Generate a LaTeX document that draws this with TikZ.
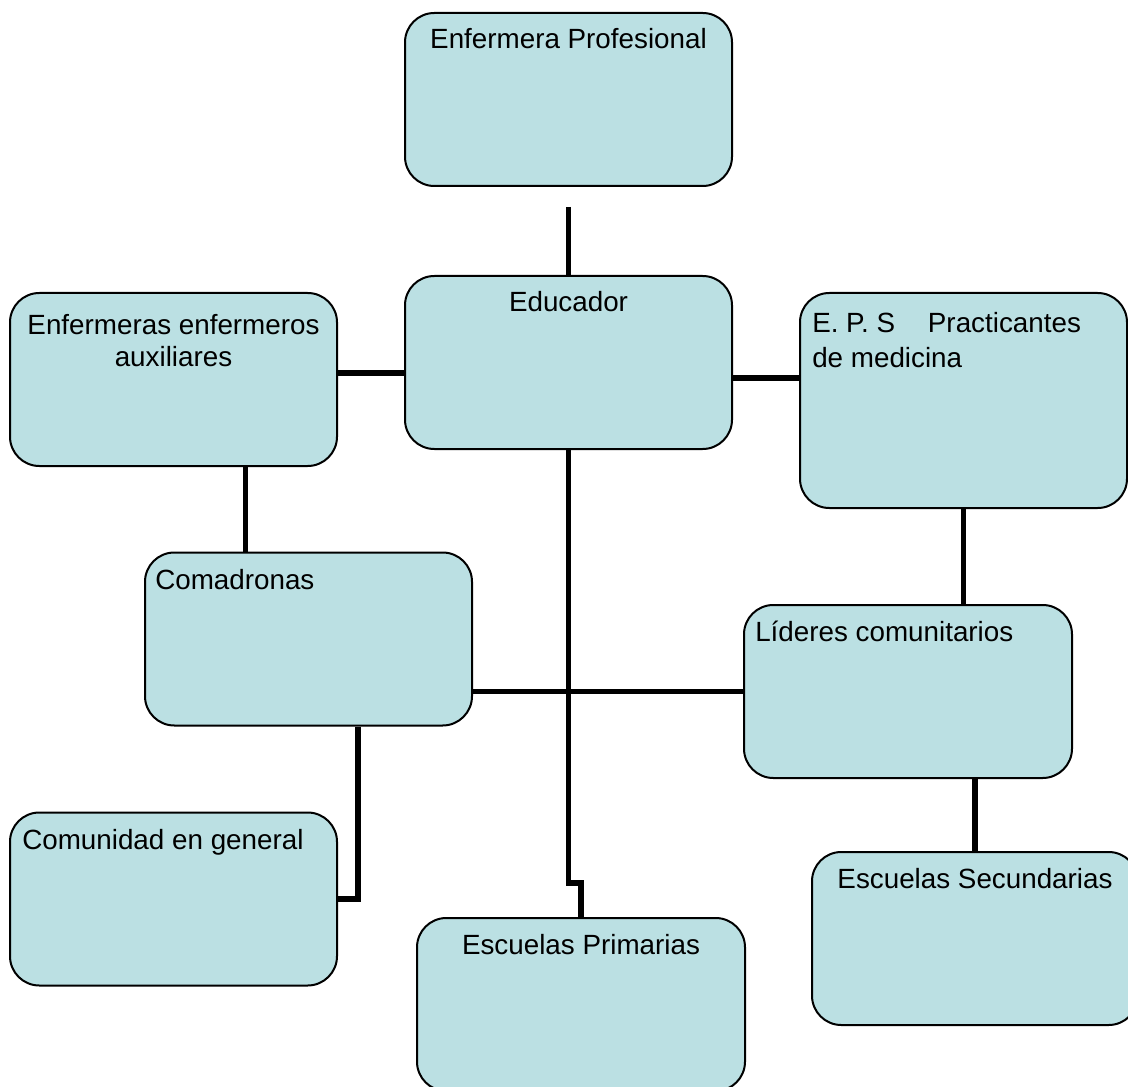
\documentclass[tikz,border=0pt]{standalone}
\usepackage{fontspec}
\setmainfont{Liberation Sans}
\definecolor{cajaazul}{RGB}{187,224,227}

\begin{document}
\begin{tikzpicture}[x=0.75pt, y=-0.75pt,
        caja/.style={draw=black, line width=1.5pt, fill=cajaazul, rounded corners=22pt,
                minimum width=245.25pt, minimum height=129.75pt, inner sep=0pt},
        enlace/.style={line width=4pt},
        rotulo/.style={anchor=base, inner sep=0pt, font=\fontsize{20.85pt}{24pt}\selectfont}]
        \useasboundingbox (0, 0) rectangle (1128, 1087);
        % cajas
        \node[caja] (prof) at (568.5, 99.5) {};
        \node[caja] (edu) at (568.5, 362.5) {};
        \node[caja] (aux) at (173.5, 379.5) {};
        \node[caja, minimum height=161.25pt] (eps) at (963.5, 400.5) {};
        \node[caja] (com) at (308.5, 639) {};
        \node[caja, minimum width=246pt] (lid) at (908, 691.5) {};
        \node[caja] (cg) at (173.5, 899) {};
        \node[caja, minimum width=246pt] (prim) at (581, 1004.5) {};
        \node[caja, minimum width=244.5pt] (sec) at (975, 938.5) {};
        % enlaces
        \coordinate (corte) at (568.5, 207);
        \draw[enlace] (corte) -- (edu.north);
        \draw[enlace] (aux.east |- 0,373) -- (edu.west |- 0,373);
        \draw[enlace] (edu.east |- 0,378) -- (eps.west |- 0,378);
        \draw[enlace] (aux.south -| 245.5,0) -- (com.north -| 245.5,0);
        \draw[enlace] (eps.south) -- (eps.south |- lid.north);
        \draw[enlace] (com.east |- lid.west) -- (lid.west);
        \coordinate (quiebre) at (568.5, 883);
        \draw[enlace] (edu.south) -- (quiebre) -| (prim.north);
        \draw[enlace] (cg.east) -| (com.south -| 358,0);
        \draw[enlace] (lid.south -| sec.north) -- (sec.north);
        % textos (los de dos lineas van por la base de la ultima)
        \node[rotulo] (tprof) at (568.5, 49) {Enfermera Profesional};
        \node[rotulo] (tedu) at (568.5, 312) {Educador};
        \node[rotulo, align=center] (taux) at (173.5, 367) {Enfermeras enfermeros\\auxiliares};
        \node[rotulo, anchor=base west, align=left, font=\fontsize{20.85pt}{26.5pt}\selectfont] (teps) at (812, 367.5) {E. P. S\hspace{0.9em} Practicantes\\de medicina};
        \node[rotulo, anchor=base west] (tcom) at (155, 589) {Comadronas};
        \node[rotulo, anchor=base west] (tlid) at (755, 641) {Líderes comunitarios};
        \node[rotulo, anchor=base west] (tcg) at (22, 849) {Comunidad en general};
        \node[rotulo] (tprim) at (581, 954) {Escuelas Primarias};
        \node[rotulo] (tsec) at (975, 888) {Escuelas Secundarias};
\end{tikzpicture}
\end{document}
